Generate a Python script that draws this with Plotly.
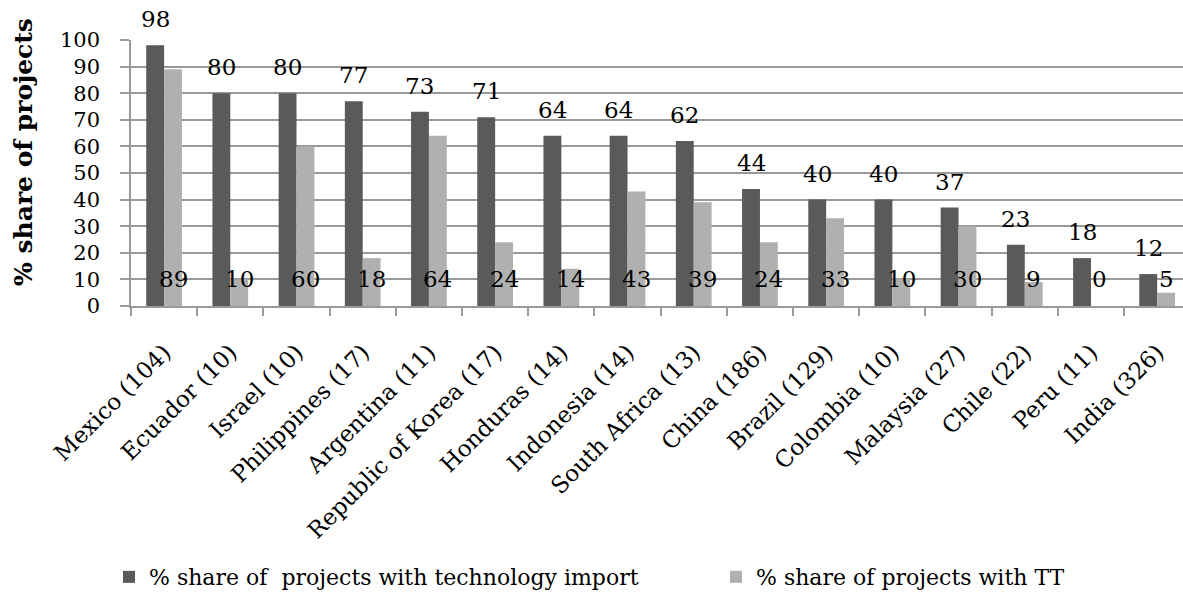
import plotly.graph_objects as go

countries = ["Mexico (104)", "Ecuador (10)", "Israel (10)", "Philippines (17)", "Argentina (11)",
             "Republic of Korea (17)", "Honduras (14)", "Indonesia (14)", "South Africa (13)",
             "China (186)", "Brazil (129)", "Colombia (10)", "Malaysia (27)", "Chile (22)",
             "Peru (11)", "India (326)"]
tech_import = [98, 80, 80, 77, 73, 71, 64, 64, 62, 44, 40, 40, 37, 23, 18, 12]
tt_share = [89, 10, 60, 18, 64, 24, 14, 43, 39, 24, 33, 10, 30, 9, 0, 5]
y_ticks = [0, 10, 20, 30, 40, 50, 60, 70, 80, 90, 100]

name1 = "% share of  projects with technology import"
name2 = "% share of projects with TT"
y_title = "% share of projects"

FONT = "DejaVu Serif"
DARK = "#5a5a5a"
LIGHT = "#b0b0b0"
GRID = "#999999"
W = 0.27

ML, MT, MB = 131, 40, 292
PLOT_W = 1183 - ML
PLOT_H = 598 - MT - MB

xs = list(range(len(countries)))

fig = go.Figure()
fig.add_trace(go.Bar(x=xs, y=tech_import, name=name1, marker_color=DARK,
                     width=W, offset=-W, marker_line_width=0, legend="legend"))
fig.add_trace(go.Bar(x=xs, y=tt_share, name=name2, marker_color=LIGHT,
                     width=W, offset=0, marker_line_width=0, legend="legend2"))

annotations = []
for i, v in enumerate(tech_import):
    annotations.append(dict(x=i - W / 2, y=v, text=str(v), showarrow=False,
                            xref="x", yref="y", yanchor="middle", yshift=26,
                            font=dict(family=FONT, size=23, color="black")))
for i, v in enumerate(tt_share):
    annotations.append(dict(x=i + W / 2, y=10, text=str(v), showarrow=False,
                            xref="x", yref="y", yanchor="middle",
                            font=dict(family=FONT, size=23, color="black")))
# y-axis title (positioned as in the reference, slightly above plot centre)
annotations.append(dict(x=(23 - ML) / PLOT_W, y=(598 - MB - 152) / PLOT_H,
                        xref="paper", yref="paper", text="<b>" + y_title + "</b>",
                        textangle=-90, showarrow=False, xanchor="center", yanchor="middle",
                        font=dict(family=FONT, size=25, color="black")))

legend_common = dict(orientation="h", xref="container", yref="container",
                     y=0.035, yanchor="middle", xanchor="left",
                     font=dict(family=FONT, size=22, color="black"),
                     bgcolor="rgba(0,0,0,0)")

fig.update_layout(
    width=1183, height=598,
    margin=dict(l=ML, r=0, t=MT, b=MB, pad=0),
    plot_bgcolor="white", paper_bgcolor="white",
    barmode="overlay",
    font=dict(family=FONT, size=20, color="black"),
    annotations=annotations,
    showlegend=True,
    legend=dict(x=109 / 1183, **legend_common),
    legend2=dict(x=716 / 1183, **legend_common),
)
fig.update_xaxes(
    range=[-0.5, 15.39],
    tickmode="array", tickvals=xs, ticktext=countries, tickangle=-45,
    ticks="", showgrid=False, showline=True, linecolor=GRID, linewidth=1.5,
    tickfont=dict(family=FONT, size=23, color="black"),
    ticklabelstandoff=22,
    minor=dict(tickmode="linear", tick0=-0.5, dtick=1, ticks="outside", ticklen=8,
               tickcolor=GRID, tickwidth=1.5, showgrid=False),
    zeroline=False,
)
fig.update_yaxes(
    range=[0, 100], tickmode="array", tickvals=y_ticks,
    showgrid=True, gridcolor=GRID, gridwidth=1.5,
    showline=True, linecolor=GRID, linewidth=1.5,
    ticks="outside", ticklen=9, tickcolor=GRID, tickwidth=1.5,
    tickfont=dict(family=FONT, size=21, color="black"),
    ticklabelstandoff=16,
    zeroline=False,
)

fig.write_html("out.html")
